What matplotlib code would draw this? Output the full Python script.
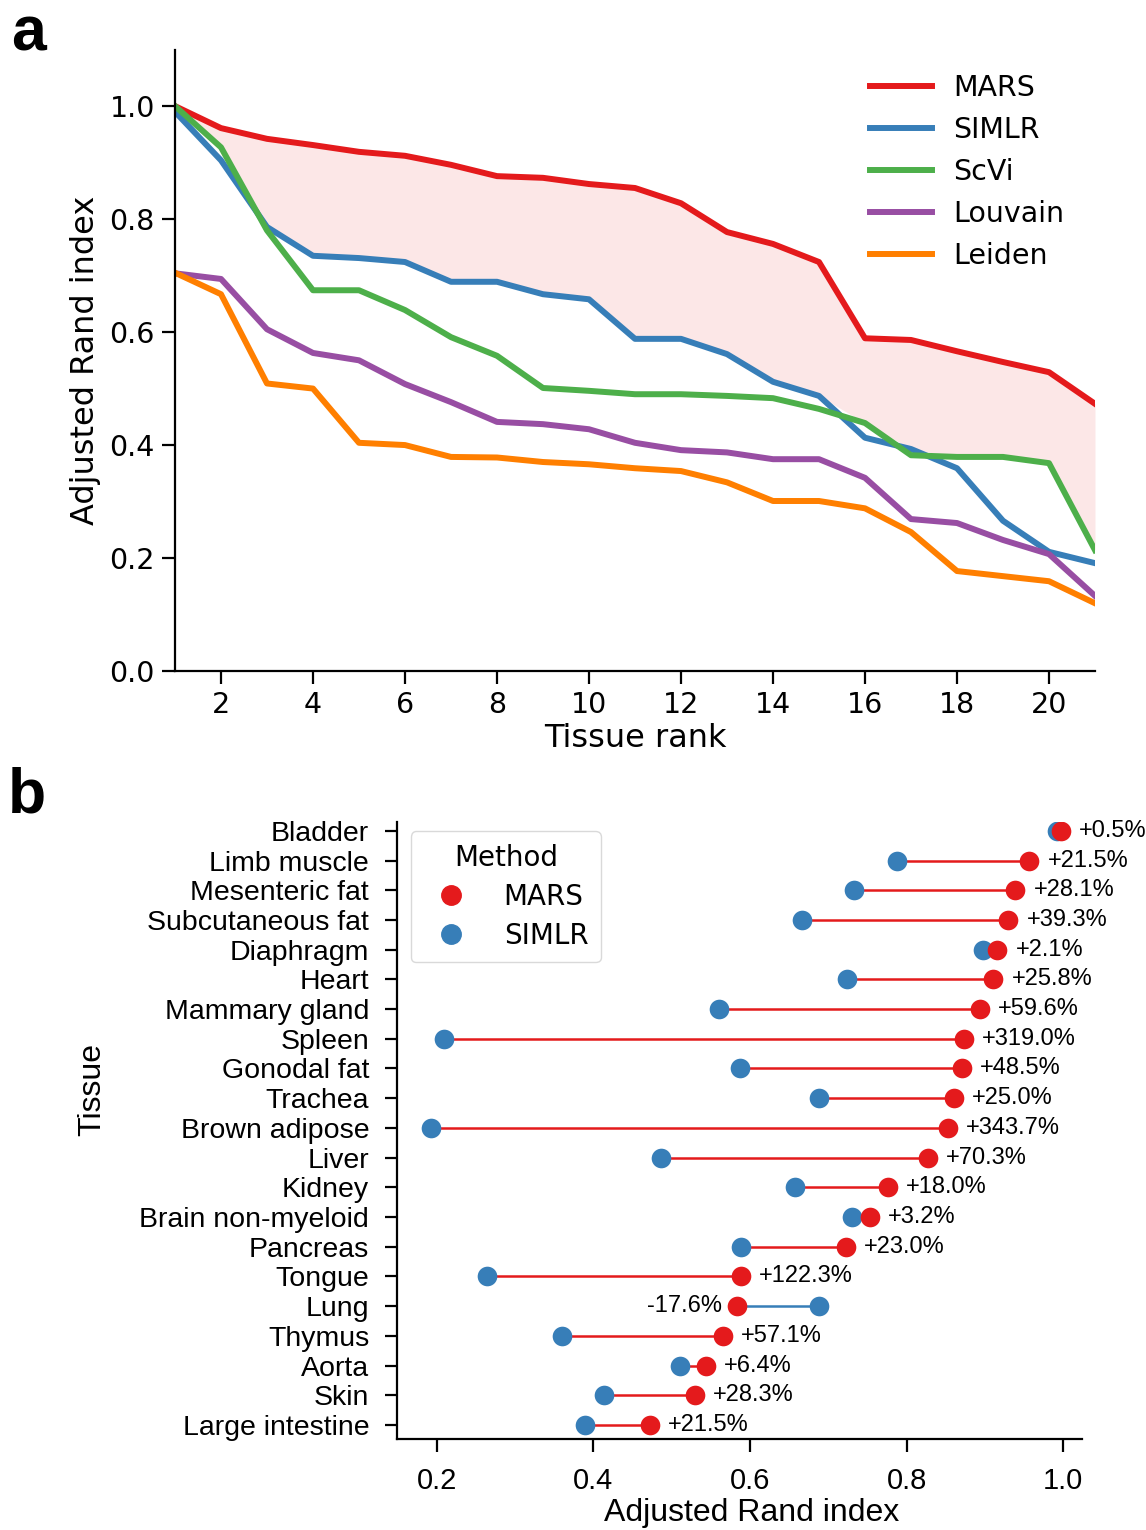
import numpy as np
import matplotlib.pyplot as plt
from matplotlib.lines import Line2D

# panel a: ARI per method, each sorted by tissue rank
rank = np.arange(1, 22)
mars_a = [1.0, 0.961, 0.942, 0.931, 0.919, 0.912, 0.896, 0.876, 0.873, 0.862, 0.855,
          0.828, 0.777, 0.756, 0.724, 0.589, 0.586, 0.566, 0.547, 0.529, 0.473]
simlr_a = [0.99, 0.904, 0.786, 0.735, 0.731, 0.724, 0.689, 0.689, 0.667, 0.658, 0.588,
           0.588, 0.561, 0.512, 0.487, 0.413, 0.393, 0.359, 0.266, 0.211, 0.191]
scvi_a = [1.0, 0.927, 0.78, 0.674, 0.674, 0.639, 0.591, 0.558, 0.501, 0.496, 0.490,
          0.490, 0.487, 0.483, 0.464, 0.439, 0.382, 0.379, 0.379, 0.368, 0.214]
louvain_a = [0.704, 0.694, 0.605, 0.563, 0.550, 0.508, 0.476, 0.441, 0.437, 0.428, 0.404,
             0.391, 0.387, 0.375, 0.375, 0.342, 0.269, 0.262, 0.232, 0.207, 0.133]
leiden_a = [0.705, 0.667, 0.509, 0.500, 0.404, 0.400, 0.379, 0.378, 0.370, 0.366, 0.359,
            0.354, 0.334, 0.301, 0.301, 0.288, 0.246, 0.177, 0.168, 0.159, 0.120]

# panel b: per tissue MARS vs SIMLR
tissues = ["Bladder", "Limb muscle", "Mesenteric fat", "Subcutaneous fat", "Diaphragm",
           "Heart", "Mammary gland", "Spleen", "Gonodal fat", "Trachea", "Brown adipose",
           "Liver", "Kidney", "Brain non-myeloid", "Pancreas", "Tongue", "Lung", "Thymus",
           "Aorta", "Skin", "Large intestine"]
mars_b = [0.997, 0.957, 0.939, 0.930, 0.916, 0.911, 0.894, 0.8735, 0.871, 0.860, 0.853,
          0.8277, 0.776, 0.753, 0.723, 0.588, 0.584, 0.5656, 0.5437, 0.530, 0.4724]
simlr_b = [0.992, 0.788, 0.733, 0.667, 0.897, 0.724, 0.560, 0.2085, 0.5867, 0.688, 0.1922,
           0.486, 0.658, 0.730, 0.588, 0.2645, 0.688, 0.360, 0.511, 0.4132, 0.3888]
gain_labels = ["+0.5%", "+21.5%", "+28.1%", "+39.3%", "+2.1%", "+25.8%", "+59.6%", "+319.0%",
               "+48.5%", "+25.0%", "+343.7%", "+70.3%", "+18.0%", "+3.2%", "+23.0%", "+122.3%",
               "-17.6%", "+57.1%", "+6.4%", "+28.3%", "+21.5%"]

RED, BLUE, GREEN, PURPLE, ORANGE = "#e41a1c", "#377eb8", "#4daf4a", "#984ea3", "#ff7f00"
HELV = ["Liberation Sans", "DejaVu Sans"]

plt.rcParams["font.family"] = "DejaVu Sans"
fig = plt.figure(figsize=(11.46, 15.3), dpi=100)

# ---- panel a ----
ax1 = fig.add_axes([0.1527, 0.5614, 0.8028, 0.4062])
best_other = np.max([simlr_a, scvi_a, louvain_a, leiden_a], axis=0)
ax1.fill_between(rank, best_other, mars_a, color=RED, alpha=0.1, lw=0)
for vals, name, c in [(mars_a, "MARS", RED), (simlr_a, "SIMLR", BLUE), (scvi_a, "ScVi", GREEN),
                      (louvain_a, "Louvain", PURPLE), (leiden_a, "Leiden", ORANGE)]:
    ax1.plot(rank, vals, color=c, lw=4.3, label=name)
ax1.set_xlim(1, 21)
ax1.set_ylim(0, 1.1)
ax1.set_xticks(range(2, 21, 2))
ax1.set_yticks([0, 0.2, 0.4, 0.6, 0.8, 1.0])
ax1.set_yticklabels(["0.0", "0.2", "0.4", "0.6", "0.8", "1.0"])
ax1.tick_params(labelsize=20.5, length=9.5, width=1.6, pad=5)
ax1.set_xlabel("Tissue rank", fontsize=23, labelpad=3)
ax1.set_ylabel("Adjusted Rand index", fontsize=23, labelpad=6)
for s in ["top", "right"]:
    ax1.spines[s].set_visible(False)
for s in ["left", "bottom"]:
    ax1.spines[s].set_linewidth(1.6)
ax1.legend(loc="upper left", bbox_to_anchor=(0.755, 0.96), frameon=False, fontsize=20.5,
           handlelength=2.2, handletextpad=0.75, labelspacing=0.49, borderpad=0, borderaxespad=0)

# ---- panel b ----
ax2 = fig.add_axes([0.3464, 0.0595, 0.5977, 0.4033])
ypos = np.arange(len(tissues))
for i in ypos:
    m, s = mars_b[i], simlr_b[i]
    ax2.plot([s, m], [i, i], color=RED if m >= s else BLUE, lw=1.8, zorder=1)
ax2.scatter(simlr_b, ypos, s=200, color=BLUE, zorder=2, lw=0)
ax2.scatter(mars_b, ypos, s=200, color=RED, zorder=3, lw=0)
for i in ypos:
    m, s = mars_b[i], simlr_b[i]
    if m >= s:
        ax2.annotate(gain_labels[i], (m, i), xytext=(13, 0), textcoords="offset points",
                     ha="left", va="center", fontsize=17, family=HELV)
    else:
        ax2.annotate(gain_labels[i], (m, i), xytext=(-11, 0), textcoords="offset points",
                     ha="right", va="center", fontsize=17, family=HELV)
ax2.set_ylim(len(tissues) - 1 + 0.47, -0.3)
ax2.set_xlim(0.149, 1.024)
ax2.set_yticks(ypos)
ax2.set_yticklabels(tissues, family=HELV, fontsize=20.5)
ax2.set_xticks([0.2, 0.4, 0.6, 0.8, 1.0])
ax2.set_xticklabels(["0.2", "0.4", "0.6", "0.8", "1.0"], family=HELV, fontsize=21)
ax2.tick_params(length=9, width=1.6, pad=11)
ax2.set_xlabel("Adjusted Rand index", fontsize=23, family=HELV)
ax2.xaxis.set_label_coords(0.518, -0.095)
ax2.set_ylabel("Tissue", fontsize=23, family=HELV)
ax2.yaxis.set_label_coords(-0.423, 0.566)
for s in ["top", "right"]:
    ax2.spines[s].set_visible(False)
for s in ["left", "bottom"]:
    ax2.spines[s].set_linewidth(1.6)
handles = [Line2D([], [], ls="", marker="o", ms=14, color=RED, label="MARS"),
           Line2D([], [], ls="", marker="o", ms=14, color=BLUE, label="SIMLR")]
leg = ax2.legend(handles=handles, title="Method", loc="upper left", bbox_to_anchor=(0.02, 0.985),
                 borderaxespad=0, fontsize=20, title_fontsize=20, handletextpad=0.9,
                 labelspacing=0.4, borderpad=0.45, framealpha=1, edgecolor="#d9d9d9")

fig.text(0.010, 0.967, "a", fontsize=45, fontweight="bold", family=HELV)
fig.text(0.007, 0.469, "b", fontsize=45, fontweight="bold", family=HELV)

fig.savefig("out.png", dpi=100)
